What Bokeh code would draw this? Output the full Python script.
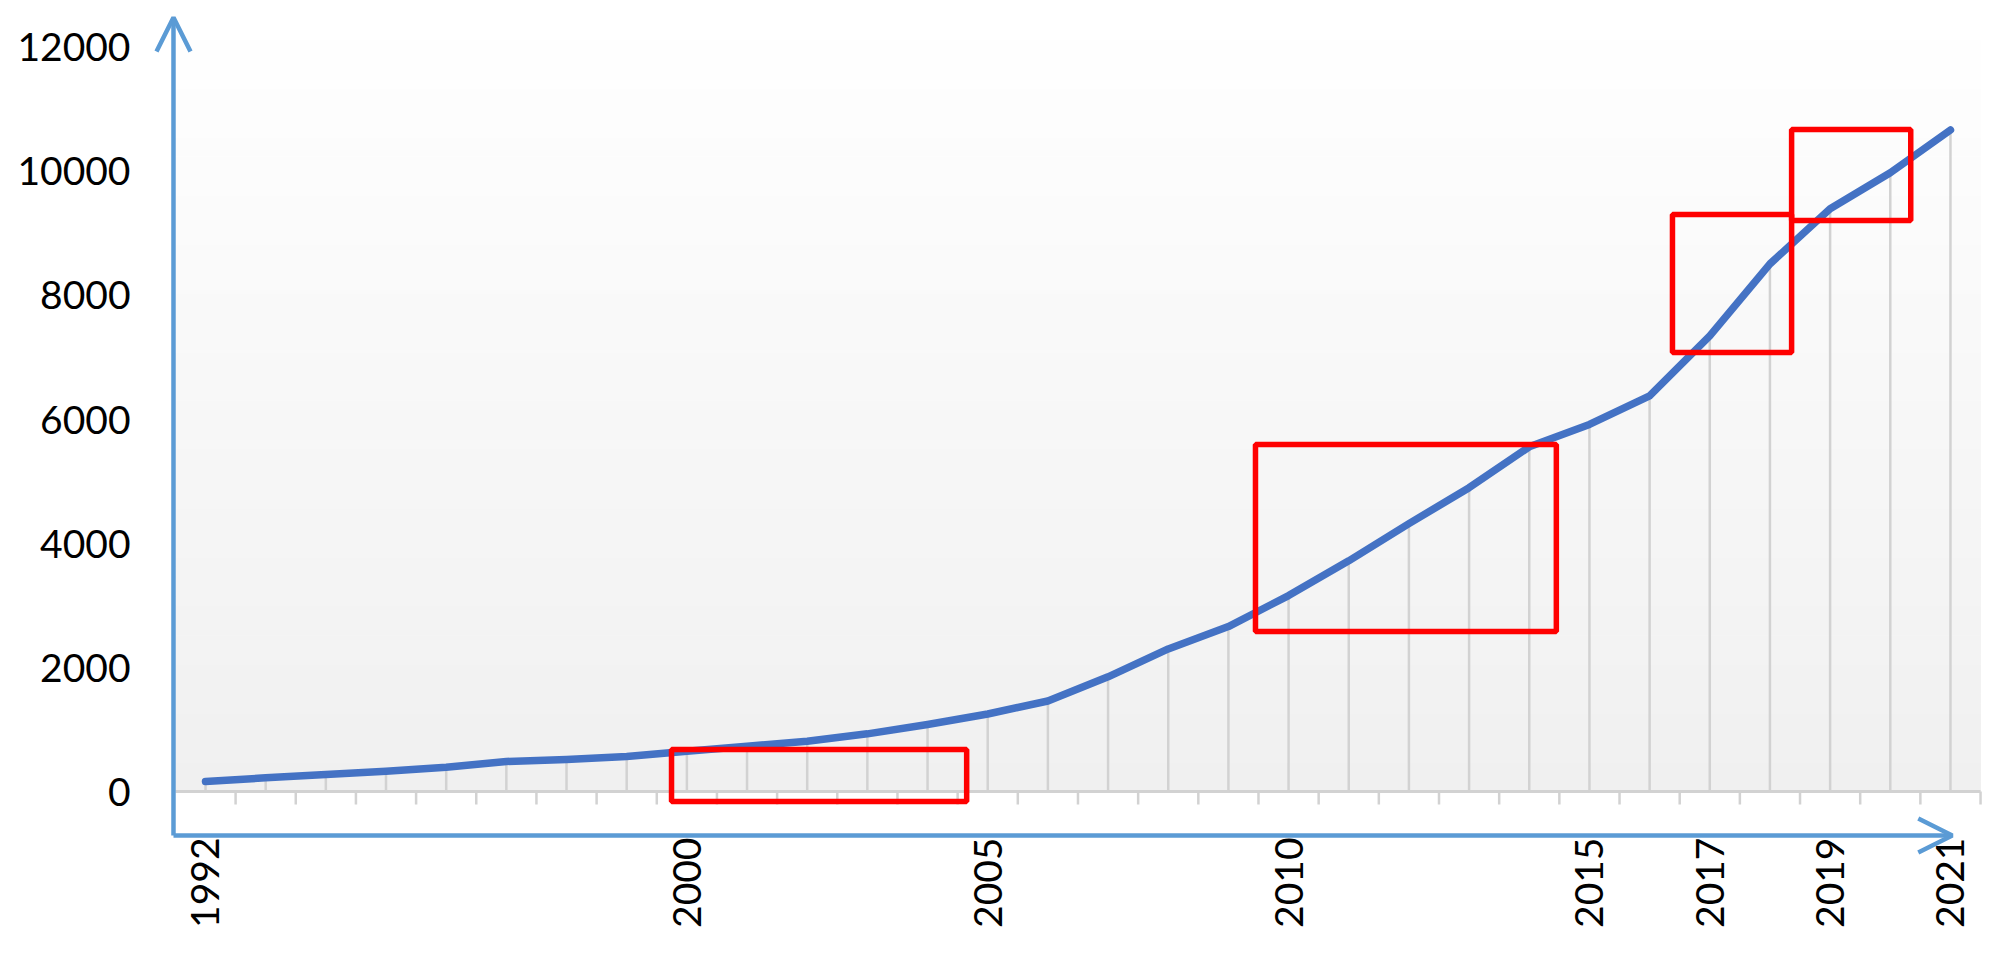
import math
from bokeh.plotting import figure
from bokeh.models import Range1d, FixedTicker, Arrow, OpenHead
from bokeh.embed import file_html
from bokeh.resources import INLINE

# ---------------- data ----------------
years = list(range(1992, 2022))
values = [160, 220, 275, 325, 390, 485, 515, 565, 650, 730,
          810, 930, 1080, 1250, 1460, 1850, 2300, 2660, 3160, 3720,
          4320, 4900, 5560, 5920, 6380, 7350, 8510, 9400, 9980, 10670]
x_tick_years = [1992, 2000, 2005, 2010, 2015, 2017, 2019, 2021]
y_ticks = [0, 2000, 4000, 6000, 8000, 10000, 12000]

# highlight boxes (year span, value span)
box_left = [1999.745, 2009.45, 2016.38, 2018.36]
box_right = [2004.65, 2014.45, 2018.36, 2020.34]
box_bottom = [-161, 2581, 7081, 9210]
box_top = [677, 5597, 9307, 10678]

# ---------------- style ----------------
BLUE_AXIS = "#5B9BD5"
BLUE_LINE = "#4472C4"
GRID_GRAY = "#D2D2D2"
FONT = "Lato"
FSIZE = "39px"

X0, X1 = 1991.0527, 2021.599       # frame x-range (years)
Y0, Y1 = -1080.6, 12629.0          # frame y-range (values)
AXIS_X = 1991.468                  # position of vertical axis
AXIS_Y = -709.7                    # position of horizontal axis
ARROW_X_TIP = 2021.03
ARROW_Y_TIP = 12484
CAT_L, CAT_R = 1991.5, 2021.5
TICK_LEN = 210                     # value units (~13px)

p = figure(frame_width=1838, frame_height=850,
           min_border_left=148, min_border_right=4,
           min_border_top=8, min_border_bottom=90,
           x_range=Range1d(X0, X1), y_range=Range1d(Y0, Y1),
           output_backend="svg", toolbar_location=None,
           background_fill_color="white", border_fill_color="white")
p.outline_line_color = None
p.grid.visible = False

# gradient background of plot area
n = 80
gb, gt, gc = [], [], []
for i in range(n):
    b = i * 12600 / n
    t = (i + 1) * 12600 / n
    f = (i + 0.5) / n
    c = int(round(240 + 15 * f))
    gb.append(b)
    gt.append(t)
    gc.append("#%02x%02x%02x" % (c, c, c))
p.quad(left=CAT_L, right=CAT_R, bottom=gb, top=gt, fill_color=gc,
       line_color=gc, line_width=1)

# baseline and category ticks
p.segment(x0=[CAT_L], y0=[0], x1=[CAT_R], y1=[0], line_color=GRID_GRAY, line_width=3)
bounds = [CAT_L + k for k in range(1, len(years) + 1)]
p.segment(x0=bounds, y0=[0] * len(bounds), x1=bounds, y1=[-TICK_LEN] * len(bounds),
          line_color=GRID_GRAY, line_width=2.5)

# drop lines
p.segment(x0=years, y0=[0] * len(years), x1=years, y1=values,
          line_color=GRID_GRAY, line_width=2.5)

# data line
p.line(years, values, line_color=BLUE_LINE, line_width=7.5,
       line_cap="round", line_join="round")

# highlight boxes
p.quad(left=box_left, right=box_right, bottom=box_bottom, top=box_top,
       fill_alpha=0, line_color="#FF0000", line_width=5.5)

# axis arrows
p.add_layout(Arrow(end=OpenHead(size=34, line_color=BLUE_AXIS, line_width=4.5),
                   x_start=AXIS_X, y_start=AXIS_Y, x_end=AXIS_X, y_end=ARROW_Y_TIP,
                   line_color=BLUE_AXIS, line_width=4.5))
p.add_layout(Arrow(end=OpenHead(size=34, line_color=BLUE_AXIS, line_width=4.5),
                   x_start=AXIS_X, y_start=AXIS_Y, x_end=ARROW_X_TIP, y_end=AXIS_Y,
                   line_color=BLUE_AXIS, line_width=4.5))

# axes (labels only)
xa = p.xaxis[0]
xa.ticker = FixedTicker(ticks=x_tick_years)
xa.major_label_orientation = math.pi / 2
xa.axis_line_color = None
xa.major_tick_line_color = None
xa.minor_tick_line_color = None
xa.major_tick_out = 0
xa.major_tick_in = 0
xa.major_label_standoff = -21
xa.major_label_text_font = FONT
xa.major_label_text_font_size = FSIZE
xa.major_label_text_color = "black"

ya = p.yaxis[0]
ya.ticker = FixedTicker(ticks=y_ticks)
ya.axis_line_color = None
ya.major_tick_line_color = None
ya.minor_tick_line_color = None
ya.major_tick_out = 0
ya.major_tick_in = 0
ya.major_label_standoff = 18
ya.major_label_text_font = FONT
ya.major_label_text_font_size = FSIZE
ya.major_label_text_color = "black"

open("out.html", "w").write(file_html(p, INLINE))
